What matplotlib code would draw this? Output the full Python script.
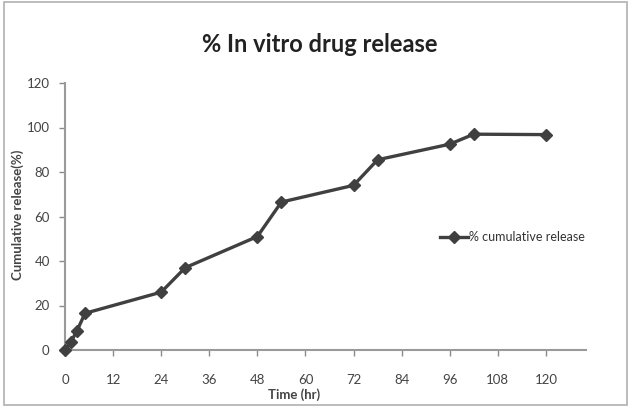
import matplotlib
matplotlib.use("Agg")
import matplotlib.pyplot as plt
from matplotlib.patches import Rectangle

# tempo (h) e liberação acumulada (%)
time_hr = [0, 1.5, 3, 5, 24, 30, 48, 54, 72, 78, 96, 102, 120]
release = [0, 3.7, 8.7, 16.5, 26, 37, 51, 66.5, 74, 85.5, 92.5, 97, 96.8]
x_ticks = [0, 12, 24, 36, 48, 60, 72, 84, 96, 108, 120]
y_ticks = [0, 20, 40, 60, 80, 100, 120]

plt.rcParams['font.family'] = ['Lato', 'DejaVu Sans']

fig = plt.figure(figsize=(6.31, 4.07), dpi=100)
ax = fig.add_axes([65 / 631, 57 / 407, 521 / 631, 267 / 407])

ax.plot(time_hr, release, color="#404040", linewidth=2.4, marker="D",
        markersize=6.5, label="% cumulative release", clip_on=False, zorder=5)

ax.set_xlim(0, 130)
ax.set_ylim(0, 120)
ax.set_xticks(x_ticks)
ax.set_yticks(y_ticks)
ax.tick_params(colors="#8a8a8a", labelcolor="#444444", labelsize=9.5, length=4, width=1)
ax.tick_params(axis="x", pad=13)
ax.tick_params(axis="y", pad=7)
for s in ["top", "right"]:
    ax.spines[s].set_visible(False)
for s in ["left", "bottom"]:
    ax.spines[s].set_color("#9a9a9a")
    ax.spines[s].set_linewidth(1.5)

fig.text(320 / 631, 1 - 45 / 407, "% In vitro drug release", ha="center", va="center",
         fontsize=17, fontweight="bold", color="#222222")
fig.text(18 / 631, 1 - 215 / 407, "Cumulative release(%)", rotation=90, ha="center",
         va="center", fontsize=9.5, fontweight="bold", color="#444444")
fig.text(294 / 631, 1 - 395 / 407, "Time (hr)", ha="center", va="center",
         fontsize=9.5, fontweight="bold", color="#444444")

ax.legend(loc="center left", bbox_to_anchor=(440 / 631, 1 - 237 / 407),
          bbox_transform=fig.transFigure, frameon=False, fontsize=9,
          handlelength=2.2, handletextpad=0.1, borderaxespad=0, borderpad=0,
          labelcolor="#333333")

fig.patches.append(Rectangle((0.006, 0.006), 0.988, 0.988, transform=fig.transFigure,
                             fill=False, edgecolor="#b0b0b0", linewidth=1.2))

fig.savefig("out.png", dpi=100, facecolor="white")
